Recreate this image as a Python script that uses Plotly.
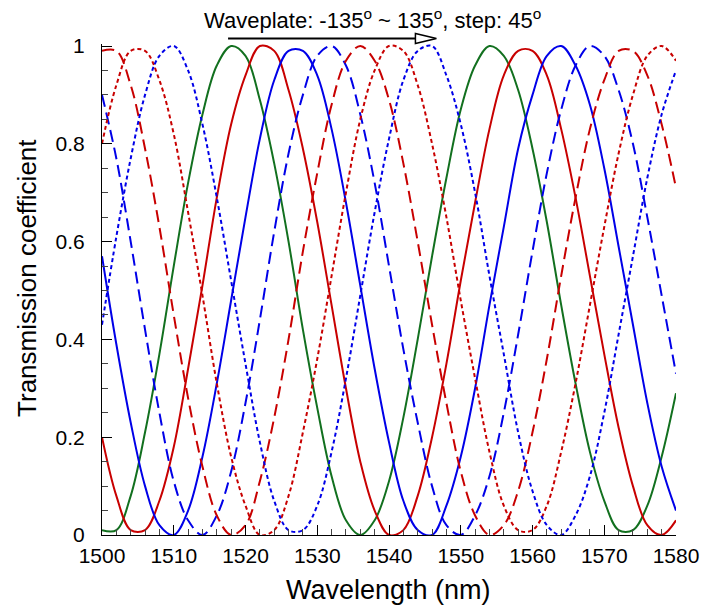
import plotly.graph_objects as go

# Wavelength grid (nm)
wavelength = [1500, 1502, 1504, 1506, 1508, 1510, 1512, 1514, 1516, 1518,
              1520, 1522, 1524, 1526, 1528, 1530, 1532, 1534, 1536, 1538,
              1540, 1542, 1544, 1546, 1548, 1550, 1552, 1554, 1556, 1558,
              1560, 1562, 1564, 1566, 1568, 1570, 1572, 1574, 1576, 1578, 1580]

# Transmission curves (one per waveplate angle)
green_solid = [0.01, 0.01, 0.08, 0.21, 0.37, 0.55, 0.72, 0.86, 0.96, 1.00,
               0.98, 0.89, 0.76, 0.60, 0.42, 0.26, 0.12, 0.03, 0.00, 0.03,
               0.11, 0.24, 0.40, 0.57, 0.73, 0.87, 0.96, 1.00, 0.98, 0.91,
               0.79, 0.64, 0.47, 0.31, 0.17, 0.07, 0.01, 0.01, 0.06, 0.16, 0.29]
red_solid = [0.20, 0.08, 0.01, 0.01, 0.07, 0.18, 0.34, 0.51, 0.69, 0.84,
             0.94, 1.00, 0.99, 0.91, 0.79, 0.64, 0.47, 0.30, 0.15, 0.05,
             0.00, 0.01, 0.08, 0.20, 0.35, 0.52, 0.68, 0.83, 0.94, 0.99,
             0.99, 0.94, 0.83, 0.69, 0.53, 0.37, 0.22, 0.10, 0.02, 0.00, 0.03]
blue_solid = [0.57, 0.39, 0.23, 0.10, 0.02, 0.00, 0.05, 0.16, 0.31, 0.48,
              0.65, 0.81, 0.93, 0.99, 0.99, 0.94, 0.83, 0.68, 0.51, 0.34,
              0.19, 0.07, 0.01, 0.00, 0.06, 0.16, 0.30, 0.47, 0.63, 0.79,
              0.90, 0.98, 1.00, 0.96, 0.88, 0.75, 0.59, 0.43, 0.27, 0.14, 0.05]
blue_dashed = [0.90, 0.77, 0.60, 0.42, 0.25, 0.11, 0.03, 0.00, 0.04, 0.13,
               0.27, 0.44, 0.62, 0.78, 0.90, 0.98, 1.00, 0.96, 0.86, 0.72,
               0.55, 0.38, 0.23, 0.10, 0.02, 0.00, 0.04, 0.12, 0.25, 0.41,
               0.58, 0.74, 0.87, 0.96, 1.00, 0.98, 0.91, 0.80, 0.65, 0.49, 0.33]
red_dashed = [0.99, 0.99, 0.92, 0.79, 0.63, 0.45, 0.28, 0.14, 0.04, 0.00,
              0.02, 0.11, 0.24, 0.40, 0.58, 0.74, 0.88, 0.97, 1.00, 0.97,
              0.89, 0.76, 0.60, 0.43, 0.27, 0.13, 0.04, 0.00, 0.02, 0.09,
              0.21, 0.36, 0.53, 0.69, 0.83, 0.93, 0.99, 0.99, 0.94, 0.84, 0.71]
red_dotted = [0.80, 0.92, 0.99, 0.99, 0.93, 0.82, 0.66, 0.49, 0.31, 0.16,
              0.06, 0.00, 0.01, 0.08, 0.21, 0.36, 0.53, 0.70, 0.85, 0.95,
              1.00, 0.99, 0.92, 0.80, 0.65, 0.48, 0.32, 0.17, 0.06, 0.01,
              0.01, 0.06, 0.17, 0.31, 0.47, 0.63, 0.78, 0.90, 0.98, 1.00, 0.97]
blue_dotted = [0.43, 0.61, 0.77, 0.90, 0.98, 1.00, 0.95, 0.84, 0.69, 0.52,
               0.35, 0.19, 0.07, 0.01, 0.01, 0.06, 0.17, 0.32, 0.49, 0.66,
               0.81, 0.93, 0.99, 1.00, 0.94, 0.84, 0.70, 0.53, 0.37, 0.21,
               0.09, 0.02, 0.00, 0.04, 0.12, 0.25, 0.41, 0.57, 0.73, 0.86, 0.95]

series_names = ["-135°", "-90°", "-45°", "0°", "45°", "90°", "135°"]
series_values = [green_solid, red_solid, blue_solid, blue_dashed,
                 red_dashed, red_dotted, blue_dotted]

GREEN = "#12701f"
RED = "#c80000"
BLUE = "#0000e8"
styles = [(GREEN, "solid"), (RED, "solid"), (BLUE, "solid"),
          (BLUE, "12px,6px"), (RED, "12px,6px"),
          (RED, "4px,3px"), (BLUE, "4px,3px")]

FONT = "Arial, Liberation Sans, sans-serif"

fig = go.Figure()
for name, vals, (col, dash) in zip(series_names, series_values, styles):
    fig.add_trace(go.Scatter(
        x=wavelength, y=vals, mode="lines", name=name,
        line=dict(color=col, width=2, dash=dash, shape="spline", smoothing=1.0),
        showlegend=False, hoverinfo="skip"))

W, H = 711, 613
Y1_PX, Y0_PX = 46, 535          # screen rows of y=1 and y=0
L, R, T, B = 102, 711 - 683, 44, 613 - 535
pw, ph = W - L - R, H - T - B
YMAX = ph / (Y0_PX - Y1_PX)     # slightly above 1 so peaks are not clipped


def px_to_paper(sx, sy):
    return (sx - L) / pw, (H - B - sy) / ph


fig.update_layout(
    width=W, height=H, autosize=False,
    margin=dict(l=L, r=R, t=T, b=B, pad=0),
    paper_bgcolor="white", plot_bgcolor="white",
    font=dict(family=FONT, size=21, color="black"),
    showlegend=False,
)

fig.update_xaxes(
    range=[1500, 1580], tick0=1500, dtick=10,
    showgrid=False, zeroline=False,
    showline=True, linecolor="black", linewidth=1,
    ticks="inside", ticklen=10, tickcolor="black", tickwidth=1,
    minor=dict(dtick=2, ticks="inside", ticklen=6, tickcolor="#444", tickwidth=1),
    tickfont=dict(family=FONT, size=21, color="black"),
    ticklabelstandoff=2, ticklabeloverflow="allow",
)
fig.update_yaxes(
    range=[0, YMAX], tick0=0, dtick=0.2,
    tickvals=[0, 0.2, 0.4, 0.6, 0.8, 1.0],
    ticktext=["0", "0.2", "0.4", "0.6", "0.8", "1"],
    showgrid=False, zeroline=False,
    showline=True, linecolor="black", linewidth=1,
    ticks="inside", ticklen=10, tickcolor="black", tickwidth=1,
    minor=dict(tick0=0, dtick=0.05, ticks="inside", ticklen=6, tickcolor="#444", tickwidth=1),
    tickfont=dict(family=FONT, size=21, color="black"),
    ticklabelstandoff=12,
)

# Axis titles
xt = px_to_paper(392, 590)
yt = px_to_paper(26, 278)
fig.add_annotation(text="Wavelength (nm)", xref="paper", yref="paper",
                   x=xt[0], y=xt[1], xanchor="center", yanchor="middle",
                   showarrow=False, font=dict(family=FONT, size=27, color="black"))
fig.add_annotation(text="Transmission coefficient", xref="paper", yref="paper",
                   x=yt[0], y=yt[1], xanchor="center", yanchor="middle",
                   textangle=-90, showarrow=False,
                   font=dict(family=FONT, size=26, color="black"))

# Top label and arrow
tl = px_to_paper(376, 19)
fig.add_annotation(text="Waveplate: -135<sup>o</sup> ~ 135<sup>o</sup>, step: 45<sup>o</sup>",
                   xref="paper", yref="paper", x=tl[0], y=tl[1],
                   xanchor="center", yanchor="middle", showarrow=False,
                   font=dict(family=FONT, size=22, color="black"))

a0 = px_to_paper(229.6, 38.5)
a1 = px_to_paper(420, 38.5)
tip = px_to_paper(440.5, 38.5)
fig.add_shape(type="line", xref="paper", yref="paper",
              x0=a0[0], y0=a0[1], x1=a1[0], y1=a1[1],
              line=dict(color="black", width=2))
fig.add_shape(type="path", xref="paper", yref="paper",
              xsizemode="pixel", ysizemode="pixel",
              xanchor=tip[0], yanchor=tip[1],
              path="M 0,0 L -21,5 L -21,-5 Z",
              fillcolor="white", line=dict(color="black", width=1.5))

# Remove the default 8px page margin so the figure fills the window exactly.
fig.write_html(
    "out.html",
    config={"displayModeBar": False, "responsive": False},
    post_script="document.body.style.margin='0';document.body.style.overflow='hidden';",
)
